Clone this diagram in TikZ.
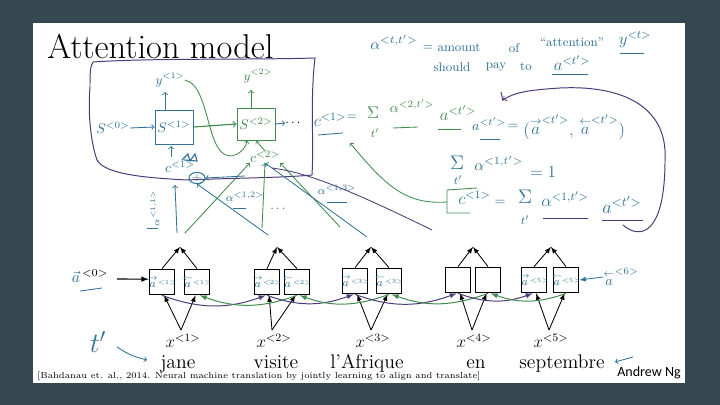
\documentclass[tikz,border=0pt]{standalone}
\usepackage{fix-cm}
\usepackage{fontspec}
\newfontfamily\ngfont{Carlito}
\definecolor{slidebg}{HTML}{36484F}
\definecolor{penblue}{HTML}{2F7396}
\definecolor{pengreen}{HTML}{3F8B4C}
\definecolor{penpurple}{HTML}{4A3A78}
\newcommand{\fsz}[1]{\fontsize{#1}{#1}\selectfont}
\newcommand{\fwda}{{\stackrel{\rightarrow}{a}}}
\newcommand{\bwda}{{\stackrel{\leftarrow}{a}}}
\newcommand{\tinysup}[1]{\raisebox{3pt}{\fsz{6.5}$\scriptstyle <#1>$}}
\tikzset{
	rnnbox/.style={draw,line width=0.8pt,fill=white,minimum width=0.64cm,minimum height=0.64cm,inner sep=0pt},
	blackarr/.style={-latex,line width=0.6pt,black},
	fwdarc/.style={-latex,line width=0.7pt,penpurple},
	bwdarc/.style={-latex,line width=0.7pt,pengreen},
	blueink/.style={penblue,inner sep=0pt},
	greenink/.style={pengreen,inner sep=0pt},
	bluepen/.style={penblue,line width=0.6pt},
	greenpen/.style={pengreen,line width=0.6pt},
	purplepen/.style={penpurple,line width=0.7pt},
	word/.style={inner sep=0pt,anchor=base,font=\fsz{14}},
}
\begin{document}
\begin{tikzpicture}[x=0.025cm,y=-0.025cm]
	\fill[slidebg] (0,0) rectangle (720,405);
	\fill[white] (33,23) rectangle (685,383);
	\useasboundingbox (0,0) rectangle (720,405);

	\node[inner sep=0pt,anchor=west,font=\fsz{24.5}] (title) at (47,46) {Attention model};
	\node[inner sep=0pt,anchor=west,font=\fsz{6.2}] (cite) at (37,376) {[Bahdanau et. al., 2014. Neural machine translation by jointly learning to align and translate]};
	\node[inner sep=0pt,font=\ngfont\fsz{10}] (ng) at (649,373) {Andrew Ng};

	% encoder
	\foreach \n/\xf/\xb/\yy/\xa/\xs in {1/162/197/282/180/181,2/267/297/282/277/272,3/355/389/281/371/371,4/458/488/280/473/472,5/534/566/280/551/549}{
		\node[rnnbox] (f\n) at (\xf,\yy) {};
		\node[rnnbox] (b\n) at (\xb,\yy) {};
		\coordinate (top\n) at (\xa,247);
		\coordinate (src\n) at (\xs,330);
		\draw[blackarr] (f\n.north) -- (top\n);
		\draw[blackarr] (b\n.north) -- (top\n);
		\draw[blackarr] (src\n) -- ([xshift=1.5pt]f\n.south);
		\draw[blackarr] (src\n) -- ([xshift=-1pt]b\n.south);
		\node[inner sep=0pt,font=\fsz{12}] (x\n) at (\xs+2,341) {$x^{<\n>}$};
	}
	\foreach \n/\ww/\txt in {1/178/jane,2/276/visite,3/367/l'Afrique,4/476/en,5/562/septembre}
		\node[word] (w\n) at (\ww,368) {\txt};
	\foreach \n in {1,2,3,5}{
		\node[blueink,font=\fsz{8}] (fa\n) at (f\n) {$\fwda$\tinysup{\n}};
		\node[blueink,font=\fsz{8}] (ba\n) at (b\n) {$\bwda$\tinysup{\n}};
	}
	\foreach \n/\m in {1/2,2/3,3/4,4/5}{
		\draw[fwdarc] (f\n.south) to[out=-20,in=-160] ([xshift=-1pt]f\m.south);
		\draw[bwdarc] (b\m.south) to[out=-160,in=-20] ([xshift=2pt]b\n.south);
	}

	% ends of the encoder
	\node[blueink,font=\fsz{11}] (a0) at (90,276) {$\vec a^{\,\textcolor{black}{<0>}}$};
	\coordinate (a0end) at (117,279);
	\draw[blackarr,line width=0.8pt] (a0end) -- ([yshift=2pt]f1.west);
	\draw[bluepen] (80,291) -- (102,288);
	\node[blueink,font=\fsz{10}] (a6) at (621,277) {$\bwda^{<6>}$};
	\draw[bluepen,-latex] (a6.west) -- (b5.east);
	\node[blueink,font=\fsz{20}] (tp) at (98,342) {$t'$};
	\coordinate (tpend) at (147,360);
	\draw[bluepen,->] (117,347) to[bend right=10] (tpend);
	\coordinate (wend) at (633,357);
	\coordinate (wtip) at (615,362);
	\draw[bluepen,->] (wend) -- (wtip);

	% decoder frame
	\draw[purplepen] (93,62) .. controls (150,58) and (250,60) .. (315,58) .. controls (310,100) and (314,140) .. (312,175)
		.. controls (280,178) and (230,178) .. (187,180) .. controls (150,178) and (105,175) .. (97,160)
		.. controls (90,140) and (88,110) .. (90,87) .. controls (90,75) and (90,66) .. (93,62);

	\node[rnnbox,draw=penblue,fill=none,line width=0.7pt,minimum width=0.95cm,minimum height=0.85cm] (s1) at (174,127) {};
	\node[rnnbox,draw=pengreen,fill=none,line width=0.7pt,minimum width=0.95cm,minimum height=0.8cm] (s2) at (256,124) {};
	\node[blueink,font=\fsz{10}] (s1t) at (s1) {$S^{<1>}$};
	\node[greenink,font=\fsz{10}] (s2t) at (s2) {$S^{<2>}$};
	\node[blueink,font=\fsz{10}] (s0) at (113,128) {$S^{<0>}$};
	\node[blueink,font=\fsz{9}] (y1) at (170,80) {$y^{<1>}$};
	\node[greenink,font=\fsz{9}] (y2) at (258,76) {$y^{<2>}$};
	\node[greenink,font=\fsz{10}] (c2) at (265,157) {$c^{<2>}$};
	\node[blueink,font=\fsz{10}] (c1) at (180,167) {$c^{<1>}$};
	\node[circle,draw=penblue,line width=0.7pt,penblue,minimum width=0.4cm,inner sep=0pt,yscale=0.7] (plus) at (197,178) {$+$};
	\node[blueink,font=\fsz{9}] (dots2) at (278,209) {$\ldots$};
	\node[inner sep=0pt,font=\fsz{9}] (dots3) at (293,123) {$\ldots$};

	\draw[bluepen,->] (s0.east) -- (s1.west);
	\draw[bluepen,->] (s1.north -| 165,0) -- (165,92);
	\draw[greenpen,->] (s2.north -| 251,0) -- (251,90);
	\draw[greenpen,->,line width=0.8pt] (s1.east) -- (s2.west);
	\draw[bluepen,->] (s2.east) -- (dots3.west);
	\draw[bluepen,->] (171,157) -- (171,146);
	\draw[greenpen,->] (c2.north) -- (s2.south);
	\draw[greenpen,->] (y1.east) .. controls (212,85) and (205,165) .. (235,155) .. controls (242,152) and (245,148) .. ([xshift=-6pt]s2.south);
	\draw[penblue,line width=0.8pt] (182,160) -- (188,154) -- (190,161) -- (195,154) -- (197,161) -- (184,160);

	% attention weights
	\coordinate (alp1) at (177,233);
	\coordinate (alp1end) at (175,185);
	\coordinate (alp2) at (268,235);
	\coordinate (gre1) at (185,233);
	\coordinate (gre2) at (262,228);
	\coordinate (gre3) at (340,227);
	\coordinate (blu3) at (367,237);
	\coordinate (blu4) at (432,230);
	\coordinate (blu5) at (272,168);
	\coordinate (blu6) at (245,176);
	\draw[bluepen,->] (alp1) -- (alp1end);
	\draw[bluepen,->] (alp2) -- (plus.south);
	\draw[greenpen,->] (gre1) -- (c2.south west);
	\draw[greenpen,->] (gre2) -- (c2.south);
	\draw[greenpen,->] (gre3) -- (c2.south east);
	\draw[bluepen,->] (blu3) -- (c2.south);
	\draw[penpurple,line width=0.6pt] (blu5) .. controls (300,172) and (330,180) .. (blu4);
	\draw[bluepen,->] (blu6) -- (plus.east);
	\node[blueink,font=\fsz{7},rotate=90] (al1) at (155,208) {$\alpha^{<1,1>}$};
	\node[blueink,font=\fsz{8}] (al2) at (245,197) {$\alpha^{<1,2>}$};
	\node[blueink,font=\fsz{8}] (al3) at (337,190) {$\alpha^{<1,3>}$};
	\draw[bluepen] (147,228) -- (158,228);
	\draw[bluepen] (233,208) -- (246,208);
	\draw[bluepen] (327,202) -- (347,202);

	% definition
	\node[blueink,font=\fsz{11},anchor=west] (def) at (370,42) {$\alpha^{<t,t'>}$};
	\node[blueink,font=\fsz{9}] (def1) at (428,48) {$=$};
	\node[blueink,font=\fsz{9}] (def2) at (459,48) {amount};
	\node[blueink,font=\fsz{9}] (def3) at (514,48) {of};
	\node[blueink,font=\fsz{9}] (def4) at (572,42) {``attention''};
	\node[blueink,font=\fsz{12}] (yt) at (635,40) {$y^{<t>}$};
	\node[blueink,font=\fsz{9}] (def5) at (452,67) {should};
	\node[blueink,font=\fsz{9}] (def6) at (496,67) {pay};
	\node[blueink,font=\fsz{9}] (def7) at (526,67) {to};
	\node[blueink,font=\fsz{12}] (at) at (572,63) {$a^{<t'>}$};
	\draw[bluepen] (620,53) -- (644,53);
	\draw[bluepen] (552,74) -- (588,74);

	% context sum
	\node[blueink,font=\fsz{12}] (c1e) at (330,120) {$c^{<1>}$};
	\draw[bluepen] (318,135) -- (343,133);
	\node[blueink,font=\fsz{8}] (eq1) at (352,117) {$=$};
	\node[greenink,font=\fsz{12}] (sig1) at (373,113) {$\Sigma$};
	\node[greenink,font=\fsz{8}] (ti1) at (375,133) {$t'$};
	\node[greenink,font=\fsz{10}] (al4) at (412,106) {$\alpha^{<2,t'>}$};
	\node[greenink,font=\fsz{12}] (a4) at (458,113) {$a^{<t'>}$};
	\draw[greenpen] (393,128) -- (418,127);
	\draw[greenpen] (438,129) -- (461,129);

	% concatenation
	\node[blueink,font=\fsz{10}] (ac) at (489,124) {$a^{<t'>}$};
	\draw[bluepen] (480,139) -- (500,139);
	\node[blueink,font=\fsz{10}] (eq3) at (513,127) {$=$};
	\node[blueink,font=\fsz{12},anchor=west] (acr) at (523,127) {$\bigl(\fwda^{<t'>},\,\bwda^{<t'>}\bigr)$};

	% weights sum to one
	\node[blueink,font=\fsz{14}] (sig2) at (457,163) {$\Sigma$};
	\node[blueink,font=\fsz{8}] (ti2) at (458,180) {$t'$};
	\node[blueink,font=\fsz{11},anchor=west] (al5) at (474,163) {$\alpha^{<1,t'>}$};
	\node[blueink,font=\fsz{12}] (one) at (543,172) {$=1$};

	% context again
	\node[blueink,font=\fsz{12},anchor=west] (c1f) at (458,198) {$c^{<1>}$};
	\node[blueink,font=\fsz{10}] (eq2) at (500,203) {$=$};
	\node[blueink,font=\fsz{14}] (sig3) at (525,197) {$\Sigma$};
	\node[blueink,font=\fsz{8}] (ti3) at (525,220) {$t'$};
	\node[blueink,font=\fsz{12},anchor=west] (al6) at (541,199) {$\alpha^{<1,t'>}$};
	\node[blueink,font=\fsz{13},anchor=west] (a6e) at (602,205) {$a^{<t'>}$};
	\draw[purplepen] (543,218) -- (588,218);
	\draw[purplepen] (602,220) -- (643,220);
	\coordinate (brk) at (447,202);
	\draw[greenpen] (477,188) -- (447,190) -- (447,213) -- (470,213);
	\draw[greenpen,->] (brk) .. controls (405,205) and (385,185) .. (350,143);
	\draw[purplepen,->] (623,225) .. controls (640,240) and (665,235) .. (665,160) .. controls (668,105) and (620,85) .. (560,88) .. controls (530,90) and (515,92) .. (503,100);
	\draw[purplepen] (501,92) -- (503,101);
\end{tikzpicture}
\end{document}
